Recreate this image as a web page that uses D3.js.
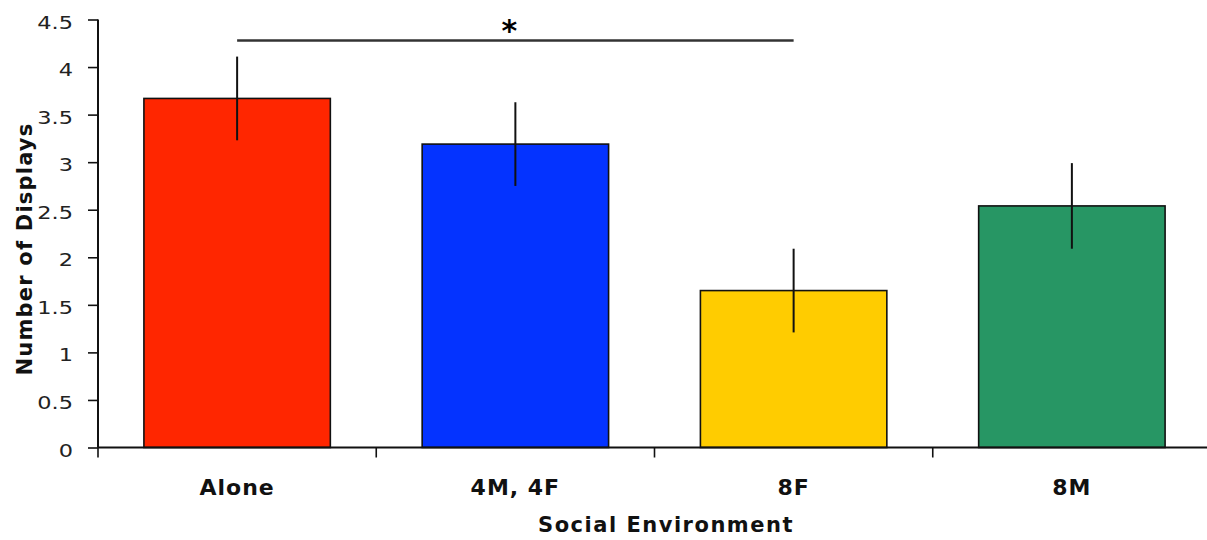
<!DOCTYPE html>
<html>
<head>
<meta charset="utf-8">
<script src="https://cdn.jsdelivr.net/npm/d3@7"></script>
<style>
  html, body { margin: 0; padding: 0; background: #fff; }
  svg { display: block; }
</style>
</head>
<body>
<svg id="chart" width="1207" height="540"></svg>
<script>
const categories = ["Alone", "4M, 4F", "8F", "8M"];
const means = [3.67, 3.19, 1.65, 2.54];
const errors = [0.44, 0.44, 0.44, 0.45];
const colors = ["#ff2600", "#0433ff", "#ffcc00", "#279664"];
const yTicks = [0, 0.5, 1, 1.5, 2, 2.5, 3, 3.5, 4, 4.5];
const sigFrom = ["Alone"];
const sigTo = ["8F"];
const sigLevel = [4.28];
const sigLabel = ["*"];

const svg = d3.select("#chart");
const x = d3.scaleBand().domain(categories).range([98, 1211]).paddingInner(0.33).paddingOuter(0.165);
const y = d3.scaleLinear().domain([0, 4.5]).range([447.5, 19.5]);

const data = categories.map((c, i) => ({ c, m: means[i], e: errors[i], col: colors[i] }));

// bars
svg.append("g").selectAll("rect").data(data).join("rect")
  .attr("x", d => x(d.c))
  .attr("y", d => y(d.m))
  .attr("width", x.bandwidth())
  .attr("height", d => y(0) - y(d.m))
  .attr("fill", d => d.col)
  .attr("stroke", "#111")
  .attr("stroke-width", 1.6);

// error bars
svg.append("g").selectAll("line").data(data).join("line")
  .attr("x1", d => x(d.c) + x.bandwidth() / 2)
  .attr("x2", d => x(d.c) + x.bandwidth() / 2)
  .attr("y1", d => y(d.m + d.e))
  .attr("y2", d => y(d.m - d.e))
  .attr("stroke", "#111")
  .attr("stroke-width", 2);

// y axis
const yAxis = svg.append("g").attr("transform", "translate(98,0)")
  .call(d3.axisLeft(y).tickValues(yTicks).tickSize(10).tickFormat(d3.format("")));
yAxis.select(".domain").attr("stroke", "#111").attr("stroke-width", 2).attr("d", `M0,${y(4.5)}V${y(0)}`);
yAxis.selectAll(".tick line").attr("stroke", "#111").attr("stroke-width", 1.6);
yAxis.selectAll(".tick text")
  .attr("x", 0).attr("dy", "0.5em")
  .attr("transform", "translate(-25,0) scale(1.32,1)")
  .attr("fill", "#222")
  .style("font-family", "'DejaVu Sans', Verdana, sans-serif")
  .style("font-size", "17px");

// x axis
const xTickPos = d3.range(categories.length + 1).map(i => 98 + i * x.step());
const xg = svg.append("g");
xg.append("line").attr("x1", 98).attr("x2", 1211).attr("y1", y(0)).attr("y2", y(0))
  .attr("stroke", "#111").attr("stroke-width", 2);
xg.selectAll(".xt").data(xTickPos).join("line").attr("class", "xt")
  .attr("x1", d => d).attr("x2", d => d)
  .attr("y1", y(0)).attr("y2", y(0) + 10)
  .attr("stroke", "#111").attr("stroke-width", 1.6);
xg.selectAll("text").data(categories).join("text")
  .attr("x", d => x(d) + x.bandwidth() / 2)
  .attr("y", 495)
  .attr("text-anchor", "middle")
  .attr("fill", "#111")
  .style("font-family", "'DejaVu Sans', Verdana, sans-serif")
  .style("font-weight", "bold")
  .style("font-size", "22px")
  .style("letter-spacing", "1px")
  .text(d => d);

// axis titles
svg.append("text")
  .attr("x", 666).attr("y", 532)
  .attr("text-anchor", "middle")
  .attr("fill", "#111")
  .style("font-family", "'DejaVu Sans', Verdana, sans-serif")
  .style("font-weight", "bold")
  .style("font-size", "21px")
  .style("letter-spacing", "1.5px")
  .text("Social Environment");

svg.append("text")
  .attr("transform", "translate(32,249) rotate(-90)")
  .attr("text-anchor", "middle")
  .attr("fill", "#111")
  .style("font-family", "'DejaVu Sans', Verdana, sans-serif")
  .style("font-weight", "bold")
  .style("font-size", "21px")
  .style("letter-spacing", "1.2px")
  .text("Number of Displays");

// significance bracket
sigFrom.forEach((f, i) => {
  const x1 = x(f) + x.bandwidth() / 2;
  const x2 = x(sigTo[i]) + x.bandwidth() / 2;
  svg.append("line").attr("x1", x1).attr("x2", x2)
    .attr("y1", y(sigLevel[i])).attr("y2", y(sigLevel[i]))
    .attr("stroke", "#333").attr("stroke-width", 2.5);
  svg.append("text")
    .attr("x", (x1 + x2) / 2 - 6).attr("y", y(sigLevel[i]) + 1)
    .attr("text-anchor", "middle")
    .attr("fill", "#000")
    .style("font-family", "'DejaVu Sans', sans-serif")
    .style("font-weight", "bold")
    .style("font-size", "30px")
    .text(sigLabel[i]);
});
</script>
</body>
</html>
